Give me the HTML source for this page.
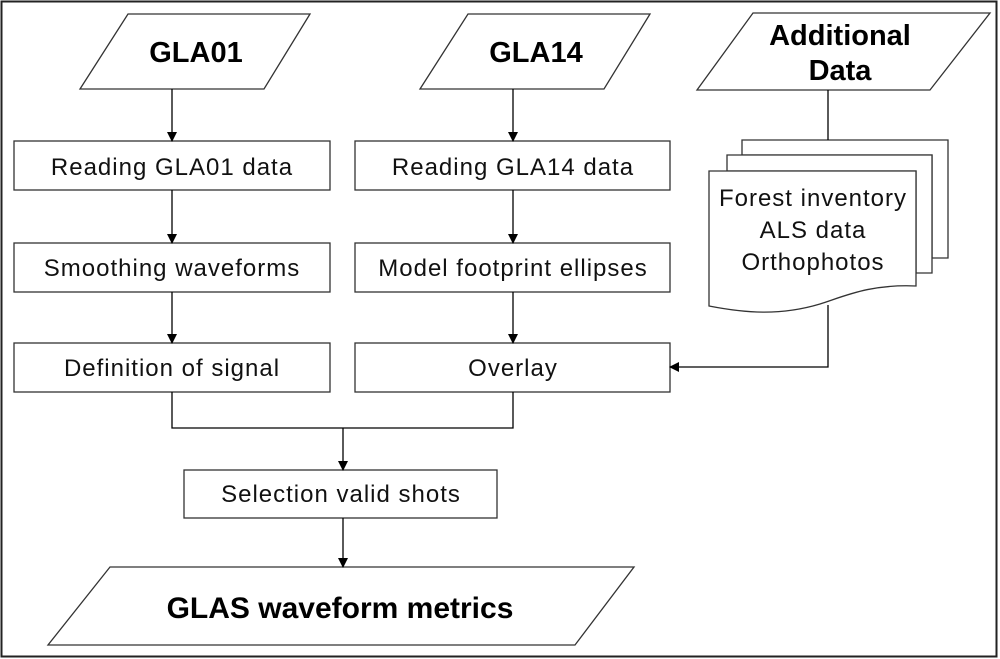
<!DOCTYPE html>
<html><head><style>body{margin:0;background:#fff}svg{display:block}</style></head><body>
<svg width="1000" height="659" viewBox="0 0 1000 659" xmlns="http://www.w3.org/2000/svg" font-family="Liberation Sans, sans-serif">
<defs><marker id="a" markerWidth="10" markerHeight="10" refX="9" refY="5" orient="auto" markerUnits="userSpaceOnUse"><path d="M0,0 L10,5 L0,10 z" fill="#000"/></marker></defs>
<rect x="1.5" y="1.5" width="995" height="655" fill="#fff" stroke="#222" stroke-width="2"/>
<g fill="#fff" stroke="#333" stroke-width="1.3">
<polygon points="128,14 310,14 264,89 80,89"/>
<polygon points="468,14 650,14 604,89 420,89"/>
<polygon points="753,13 990,13 930,90 697,90"/>
<rect x="14" y="141" width="316" height="49"/>
<rect x="14" y="243" width="316" height="49"/>
<rect x="14" y="343" width="316" height="49"/>
<rect x="355" y="141" width="315" height="49"/>
<rect x="355" y="243" width="315" height="49"/>
<rect x="355" y="343" width="315" height="49"/>
<rect x="184" y="470" width="313" height="48"/>
<polygon points="110,567 634,567 575,645 48,645"/>
<path d="M742,140 H948 V258 H932 V155 H742 Z"/>
<path d="M727,155 H932 V273 H916 V171 H727 Z"/>
<path d="M709,171 H916 V286 C870,284 845,296 820,304 C780,316 745,313 709,306 Z"/>
</g>
<g stroke="#000" stroke-width="1.3" fill="none">
<line x1="172" y1="89" x2="172" y2="141" marker-end="url(#a)"/>
<line x1="172" y1="190" x2="172" y2="243" marker-end="url(#a)"/>
<line x1="172" y1="292" x2="172" y2="343" marker-end="url(#a)"/>
<line x1="513" y1="89" x2="513" y2="141" marker-end="url(#a)"/>
<line x1="513" y1="190" x2="513" y2="243" marker-end="url(#a)"/>
<line x1="513" y1="292" x2="513" y2="343" marker-end="url(#a)"/>
<polyline points="172,392 172,428 513,428 513,392"/>
<line x1="343" y1="428" x2="343" y2="470" marker-end="url(#a)"/>
<line x1="343" y1="518" x2="343" y2="567" marker-end="url(#a)"/>
<line x1="828" y1="90" x2="828" y2="140"/>
<polyline points="828,305 828,367 670,367" marker-end="url(#a)"/>
</g>
<g fill="#111" font-size="24" letter-spacing="1" text-anchor="middle">
<text x="172" y="175">Reading GLA01 data</text>
<text x="172" y="276">Smoothing waveforms</text>
<text x="172" y="376">Definition of signal</text>
<text x="513" y="175">Reading GLA14 data</text>
<text x="513" y="276">Model footprint ellipses</text>
<text x="513" y="376">Overlay</text>
<text x="341" y="502">Selection valid shots</text>
<text x="813" y="206">Forest inventory</text>
<text x="813" y="238">ALS data</text>
<text x="813" y="270">Orthophotos</text>
</g>
<g fill="#000" font-size="29" font-weight="bold" text-anchor="middle">
<text x="196" y="62">GLA01</text>
<text x="536" y="62">GLA14</text>
<text x="840" y="45">Additional</text>
<text x="840" y="80">Data</text>
<text x="340" y="618" font-size="30">GLAS waveform metrics</text>
</g>
</svg>
</body></html>
